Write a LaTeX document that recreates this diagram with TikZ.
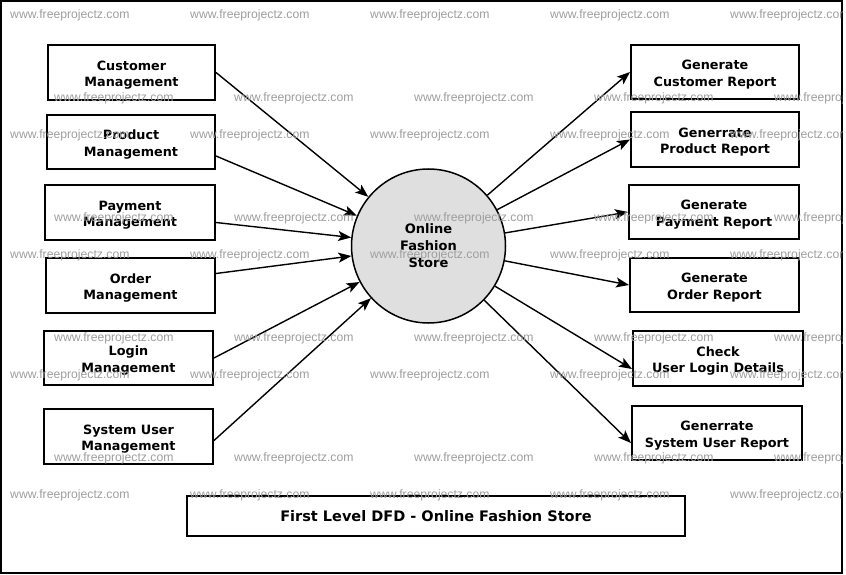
\documentclass[tikz,border=0pt]{standalone}
\usepackage{fontspec}
\setmainfont{DejaVu Sans}
\newfontfamily\wmfont{Liberation Sans}
\usetikzlibrary{arrows.meta}
\begin{document}
\begin{tikzpicture}[x=1pt,y=-1pt,
  procbox/.style={draw,line width=2pt,inner sep=0pt},
  boxtext/.style={align=center,inner sep=0pt,
    font=\bfseries\fontsize{12.8}{16.5}\selectfont},
  titlebox/.style={draw,line width=2pt,align=center,inner sep=0pt,
    font=\bfseries\fontsize{14.5}{17}\selectfont},
  storenode/.style={circle,draw,line width=1.5pt,fill=gray!25,align=center,inner sep=0pt,
    minimum size=154pt,font=\bfseries\fontsize{13}{17}\selectfont},
  flow/.style={line width=1.4pt,-{Stealth[length=13pt,width=10pt,inset=3pt]}},
  wm/.style={anchor=base west,inner sep=0pt,text=black!38,
    font=\wmfont\fontsize{12.2}{14}\selectfont}]
\useasboundingbox (0,0) rectangle (846,575);
\fill[white] (0,0) rectangle (846,575);
% frame
\draw[line width=2pt] (1,1) rectangle (842,573);
% central process
\node[storenode] (store) at (428.5,246) {Online\\Fashion\\Store};
% left boxes
\node[procbox,minimum width=167pt,minimum height=55pt] (cm) at (131.5,72.5) {};
\node[procbox,minimum width=168pt,minimum height=54pt] (pm) at (131,142) {};
\node[procbox,minimum width=170pt,minimum height=55pt] (paym) at (130,212.5) {};
\node[procbox,minimum width=169pt,minimum height=55pt] (om) at (130.5,285.5) {};
\node[procbox,minimum width=169pt,minimum height=54pt] (lm) at (128.5,358) {};
\node[procbox,minimum width=169pt,minimum height=55pt] (sum) at (128.5,436.5) {};
\node[boxtext] (cmt) at ([yshift=-2.5pt]cm.center) {Customer\\Management};
\node[boxtext] (pmt) at ([yshift=-2.5pt]pm.center) {Product\\Management};
\node[boxtext] (paymt) at ([yshift=-2.5pt]paym.center) {Payment\\Management};
\node[boxtext] (omt) at ([yshift=-2.5pt]om.center) {Order\\Management};
\node[boxtext] (lmt) at ([yshift=-2.5pt]lm.center) {Login\\Management};
\node[boxtext] (sumt) at ([yshift=-2.5pt]sum.center) {System User\\Management};
% right boxes
\node[procbox,minimum width=168pt,minimum height=54pt] (gcr) at (715,72) {};
\node[procbox,minimum width=168pt,minimum height=55pt] (gpr) at (715,139.5) {};
\node[procbox,minimum width=170pt,minimum height=54pt] (gpayr) at (714,212) {};
\node[procbox,minimum width=169pt,minimum height=54pt] (gor) at (714.5,285) {};
\node[procbox,minimum width=170pt,minimum height=55pt] (cul) at (718,358.5) {};
\node[procbox,minimum width=170pt,minimum height=54pt] (gsur) at (717,433) {};
\node[boxtext] (gcrt) at ([yshift=-2.5pt]gcr.center) {Generate\\Customer Report};
\node[boxtext] (gprt) at ([yshift=-2.5pt]gpr.center) {Generrate\\Product Report};
\node[boxtext] (gpayrt) at ([yshift=-2.5pt]gpayr.center) {Generate\\Payment Report};
\node[boxtext] (gort) at ([yshift=-2.5pt]gor.center) {Generate\\Order Report};
\node[boxtext] (cult) at ([yshift=-2.5pt]cul.center) {Check\\User Login Details};
\node[boxtext] (gsurt) at ([yshift=-2.5pt]gsur.center) {Generrate\\System User Report};
% title
\node[titlebox,minimum width=498pt,minimum height=40pt] (title) at (436,516) {First Level DFD - Online Fashion Store};
% flows in
\draw[flow] (cm.east) -- (store);
\draw[flow] (pm.east |- 0,156) -- (store);
\draw[flow] (paym.east |- 0,222.5) -- (store);
\draw[flow] (om.east |- 0,273.5) -- (store);
\draw[flow] (lm.east) -- (store);
\draw[flow] (sum.east |- 0,440.5) -- (store);
% flows out
\draw[flow] (store) -- (gcr.west);
\draw[flow] (store) -- (gpr.west);
\draw[flow] (store) -- (gpayr.west);
\draw[flow] (store) -- (gor.west);
\draw[flow] (store) -- (cul.west |- 0,369);
\draw[flow] (store) -- (gsur.west |- 0,443);
% watermarks (on top, as in the reference)
\begin{scope}
\clip (0,0) rectangle (842,573);
\foreach \y in {18.5,138.5,258.5,378.5,498.5}
  \foreach \x in {10,190,370,550,730}
    \node[wm] at (\x,\y) {www.freeprojectz.com};
\foreach \y in {101.5,221.5,341.5,461.5}
  \foreach \x in {54,234,414,594,774}
    \node[wm] at (\x,\y) {www.freeprojectz.com};
\end{scope}
\end{tikzpicture}
\end{document}
